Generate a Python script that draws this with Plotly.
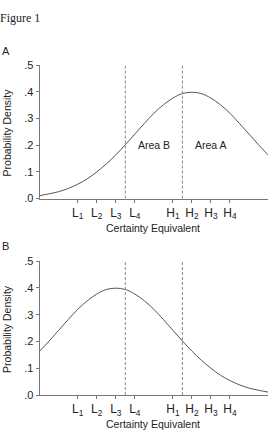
import plotly.graph_objects as go

# Data
x_vals = [0, 0.5, 1, 1.5, 2, 2.5, 3, 3.5, 4, 4.5, 5, 5.5, 6, 6.5, 7, 7.5, 8, 8.5, 9, 9.5, 10, 10.5, 11, 11.5, 12]
density_a = [0.011, 0.018, 0.026, 0.038, 0.054, 0.074, 0.100, 0.130, 0.164, 0.202, 0.242, 0.282, 0.320, 0.352,
             0.377, 0.394, 0.399, 0.394, 0.377, 0.352, 0.320, 0.282, 0.242, 0.202, 0.164]
density_b = [0.164, 0.202, 0.242, 0.282, 0.320, 0.352, 0.377, 0.394, 0.399, 0.394, 0.377, 0.352, 0.320, 0.282,
             0.242, 0.202, 0.164, 0.130, 0.100, 0.074, 0.054, 0.038, 0.026, 0.018, 0.011]
x_tick_vals = [2, 3, 4, 5, 7, 8, 9, 10]
x_tick_letters = ["L", "L", "L", "L", "H", "H", "H", "H"]
x_tick_subs = ["1", "2", "3", "4", "1", "2", "3", "4"]
y_tick_vals = [0, 0.1, 0.2, 0.3, 0.4, 0.5]
y_tick_text = [".0", ".1", ".2", ".3", ".4", ".5"]
cutoffs = [4.5, 7.5]
area_labels = [("Area B", 6.0, 0.2), ("Area A", 9.0, 0.2)]

W, H = 272, 438
FONT = "Liberation Sans, Arial, sans-serif"
TXT = "#222222"
AXC = "#777777"

x_tick_text = [f"{l}<sub>{s}</sub>" for l, s in zip(x_tick_letters, x_tick_subs)]

fig = go.Figure()

fig.add_trace(go.Scatter(x=x_vals, y=density_a, mode="lines", line=dict(color="#555555", width=1, shape="spline"),
                         xaxis="x", yaxis="y", showlegend=False, hoverinfo="skip"))
fig.add_trace(go.Scatter(x=x_vals, y=density_b, mode="lines", line=dict(color="#555555", width=1, shape="spline"),
                         xaxis="x2", yaxis="y2", showlegend=False, hoverinfo="skip"))

for xr, yr in [("x", "y"), ("x2", "y2")]:
    for c in cutoffs:
        fig.add_shape(type="line", xref=xr, yref=yr, x0=c, x1=c, y0=0, y1=0.5,
                      line=dict(color="#888888", width=1, dash="3px,2px"))

for txt, xv, yv in area_labels:
    fig.add_annotation(x=xv, y=yv, xref="x", yref="y", text=txt, showarrow=False,
                       font=dict(family=FONT, size=10.5, color=TXT))

xdom = [39.7 / W, 268 / W]
dom_a = [(H - 198) / H, (H - 61) / H]
dom_b = [(H - 400) / H, (H - 262.3) / H]

xaxis_common = dict(range=[0, 12], tickvals=x_tick_vals, ticktext=x_tick_text, ticks="outside", ticklen=3,
                    tickcolor=AXC, showline=True, linecolor=AXC, linewidth=1, showgrid=False, zeroline=False,
                    tickfont=dict(family=FONT, size=12, color=TXT), domain=xdom)
yaxis_common = dict(range=[0, 0.5], tickvals=y_tick_vals, ticktext=y_tick_text, ticks="outside", ticklen=3,
                    tickcolor=AXC, showline=True, linecolor=AXC, linewidth=1, showgrid=False, zeroline=False,
                    tickfont=dict(family=FONT, size=11, color=TXT))

fig.update_layout(
    width=W, height=H, margin=dict(l=0, r=0, t=0, b=0),
    paper_bgcolor="white", plot_bgcolor="white",
    xaxis=dict(**xaxis_common, anchor="y"),
    yaxis=dict(**yaxis_common, domain=dom_a, anchor="x"),
    xaxis2=dict(**xaxis_common, anchor="y2"),
    yaxis2=dict(**yaxis_common, domain=dom_b, anchor="x2"),
)

def ann(text, xpx, ypx, size=11, family=FONT, angle=0, xanchor="center"):
    fig.add_annotation(x=xpx / W, y=1 - ypx / H, xref="paper", yref="paper", text=text, showarrow=False,
                       xanchor=xanchor, yanchor="middle", textangle=angle,
                       font=dict(family=family, size=size, color=TXT))

ann("Figure 1", -2, 12, size=12, family="Liberation Serif, Times New Roman, serif", xanchor="left")
ann("A", 0, 46, size=11, xanchor="left")
ann("B", 0, 247, size=11, xanchor="left")
ann("Probability Density", 7, 130, size=10.5, angle=-90)
ann("Probability Density", 7, 332, size=10.5, angle=-90)
ann("Certainty Equivalent", 153, 228, size=10.5)
ann("Certainty Equivalent", 153, 430, size=10.5)

fig.write_html("out.html")
